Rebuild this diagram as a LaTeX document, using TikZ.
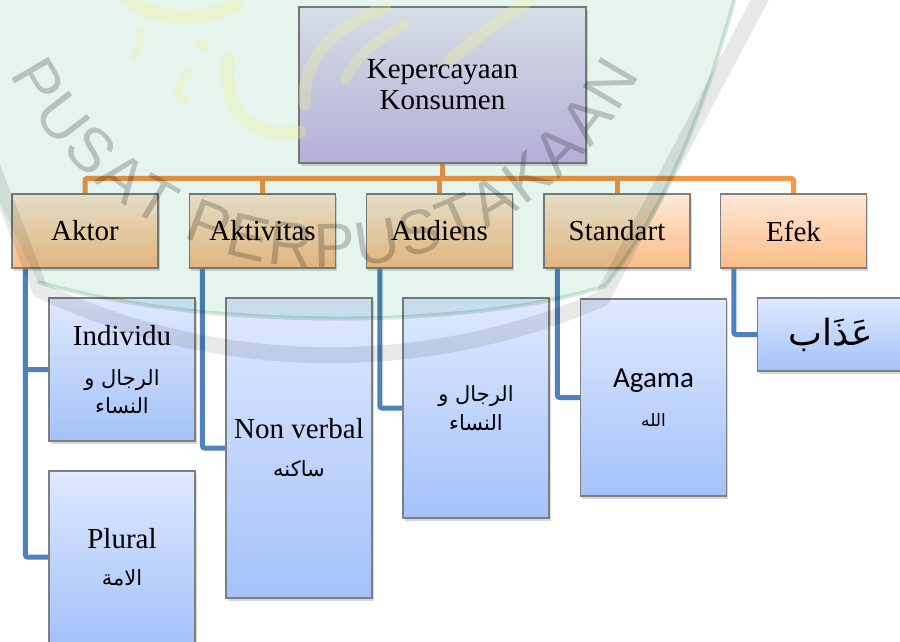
\documentclass[tikz,border=0pt]{standalone}
\usepackage{fontspec}
\setmainfont{Liberation Serif}
\newfontfamily\arfont[Script=Arabic]{DejaVu Sans}
\newfontfamily\calfont{Carlito}
\newfontfamily\wmfont{Liberation Sans}
\TeXXeTstate=1
\usetikzlibrary{calc,shadows,backgrounds,decorations.text}

\definecolor{boxline}{HTML}{7F7F7F}
\definecolor{orangeline}{HTML}{F79646}
\definecolor{blueline}{HTML}{4F81BD}
\definecolor{purpletop}{HTML}{EFE8F8}
\definecolor{purplebot}{HTML}{C8B8EA}
\definecolor{orangetop}{HTML}{FEE8D7}
\definecolor{orangebot}{HTML}{FBBD88}
\definecolor{bluetop}{HTML}{DFE9FF}
\definecolor{bluebot}{HTML}{A3C2F9}
\definecolor{wmgreen}{HTML}{E5F4EC}
\definecolor{wmedge}{HTML}{D6E9DF}
\definecolor{wmband}{HTML}{E8E8E8}
\definecolor{wmtext}{HTML}{CBCBCB}
\definecolor{wmyellow}{HTML}{F0F296}

% Latin line in the serif face; Arabic face at a given size
\newcommand\entext[1]{{\fontsize{29}{31}\selectfont #1}}
\newcommand\arset[1]{\fontsize{#1}{#1}\arfont}

\tikzset{
  box/.style={draw=boxline, line width=1.1pt, align=center, inner sep=0pt,
    drop shadow={shadow xshift=1.5pt, shadow yshift=-2.5pt, opacity=0.3},
    font=\fontsize{21}{28}\selectfont},
  rootbox/.style={box, top color=purpletop, bottom color=purplebot,
    minimum width=287pt, minimum height=156pt, font=\fontsize{29}{31}\selectfont},
  catbox/.style={box, top color=orangetop, bottom color=orangebot,
    minimum width=146pt, minimum height=74pt, font=\fontsize{29}{31}\selectfont},
  itembox/.style={box, top color=bluetop, bottom color=bluebot, minimum width=146pt},
  orangelink/.style={draw=orangeline, line width=5pt, rounded corners=2pt},
  bluelink/.style={draw=blueline, line width=5pt, rounded corners=2pt},
  calli/.style={draw=wmyellow, line cap=round, line join=round},
}

\begin{document}
\begin{tikzpicture}[x=1pt,y=1pt]
\useasboundingbox (0,0) rectangle (900,-641);
\clip (0,0) rectangle (900,-641);

% top of the chart
\node[rootbox] (root) at (442.5,-85) {Kepercayaan\\Konsumen};

% second level
\node[catbox] (aktor)     at (85,-231)    {Aktor};
\node[catbox] (aktivitas) at (262.5,-231) {Aktivitas};
\node[catbox] (audiens)   at (439.5,-231) {Audiens};
\node[catbox] (standart)  at (617,-231)   {Standart};
\node[catbox] (efek)      at (793.5,-231) {Efek};

% third level
\node[itembox, minimum height=143pt] (individu) at (122,-369.5)
  {\entext{Individu}\\[12pt] {\arset{21}\beginR الرجال و\endR}\\ {\arset{21}\beginR النساء\endR}};
\node[itembox, minimum height=172pt] (plural) at (122,-557)
  {\entext{Plural}\\[9pt] {\arset{21}\beginR الامة\endR}};
\node[itembox, minimum height=300pt] (nonverbal) at (299,-448)
  {\entext{Non verbal}\\[10pt] {\arset{21}\beginR ساكنه\endR}};
\node[itembox, minimum height=220pt] (pria) at (476,-408)
  {{\arset{21}\beginR الرجال و\endR}\\[1pt] {\arset{21}\beginR النساء\endR}};
\node[itembox, minimum height=197pt] (agama) at (653.5,-397.5)
  {{\calfont\fontsize{29}{31}\selectfont Agama}\\[11pt] {\arset{17}\beginR الله\endR}};
\node[itembox, minimum height=73pt] (azab) at (830.5,-334.5)
  {{\arset{36}\beginR عَذَاب\endR}};

% connectors, under the boxes
\begin{scope}[on background layer]
  \fill[white] (0,0) rectangle (900,-641);
  \draw[orangelink] (aktor.north) -- ++(0,15) -| (efek.north);
  \draw[orangelink] (root.south) -- ++(0,-16);
  \draw[orangelink] (aktivitas.north) -- ++(0,15);
  \draw[orangelink] (audiens.north) -- ++(0,15);
  \draw[orangelink] (standart.north) -- ++(0,15);
  \draw[bluelink] ($(aktor.south west)+(14,0)$) |- (individu.west);
  \draw[bluelink] ($(aktor.south west)+(14,0)$) |- (plural.west);
  \draw[bluelink] ($(aktivitas.south west)+(13.5,0)$) |- (nonverbal.west);
  \draw[bluelink] ($(audiens.south west)+(14,0)$) |- (pria.west);
  \draw[bluelink] ($(standart.south west)+(14,0)$) |- (agama.west);
  \draw[bluelink] ($(efek.south west)+(14,0)$) |- (azab.west);
\end{scope}

% library stamp laid over the chart
\begin{scope}[blend mode=multiply]
  \fill[wmgreen] (-10,10) -- (737,10)
    .. controls (705,-110) and (665,-210) .. (605,-286)
    .. controls (470,-330) and (200,-330) .. (38,-282) -- (-12,-178) -- cycle;
  \draw[wmedge, line width=4pt] (737,10)
    .. controls (705,-110) and (665,-210) .. (605,-286)
    .. controls (470,-330) and (200,-330) .. (38,-282);
  \draw[wmband, line width=16pt, line join=round]
    (-14,-150) -- (40,-290) arc[start angle=244.7, end angle=293.5, radius=680] -- (765,10);
  \path[decorate, decoration={text along path, text align=fit to path,
      text color=wmtext,
      text={|\wmfont\fontsize{62}{62}\selectfont|PUSAT PERPUSTAKAAN}}]
    (325,85.7) ++(-153:353) arc[start angle=-153, end angle=-27, radius=353];
\end{scope}

% calligraphy of the stamp
\begin{scope}[opacity=0.32]
  \draw[calli, line width=13pt] (228,-58) .. controls (222,-110) and (250,-140) .. (300,-132);
  \fill[wmyellow] (203,-37) -- (211,-45) -- (203,-53) -- (195,-45) -- cycle;
  \draw[calli, line width=7pt] (190,-72) .. controls (178,-85) and (172,-100) .. (186,-100);
  \draw[calli, line width=6pt] (142,-30) .. controls (140,-42) and (137,-52) .. (134,-58);
  \draw[calli, line width=14pt] (125,2) .. controls (160,-22) and (200,-22) .. (235,-5);
  \draw[calli, line width=12pt] (305,-105) .. controls (300,-60) and (335,-25) .. (385,-8);
  \draw[calli, line width=10pt] (345,-80) .. controls (360,-50) and (385,-35) .. (405,-25);
  \draw[calli, line width=12pt] (450,-60) .. controls (480,-35) and (505,-15) .. (530,0);
\end{scope}
\end{tikzpicture}
\end{document}
